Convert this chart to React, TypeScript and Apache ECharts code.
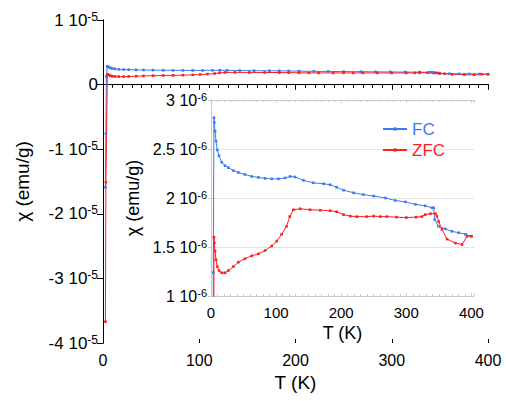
import React, { useEffect, useRef } from "react";
import * as echarts from "echarts";

// Temperature (K) and susceptibility (in units of 1e-6 emu/g)
const tFC = [2.5, 3, 3.5, 4.5, 5.1, 6.2, 7.7, 9.7, 12.3, 16.4, 21.5, 26.7, 34.4, 42, 52, 62.6, 72.8, 83, 93.3, 103.6, 113.8, 121.5, 129, 142, 157, 173, 183, 193, 203.6, 219, 234, 250, 268, 283, 298.5, 314, 329, 339.5, 342, 343.6, 349.7, 360, 370, 380.5, 390.8, 400];
const chiFC = [-15.9, -7.6, 1.24, 2.82, 2.77, 2.68, 2.58, 2.49, 2.43, 2.365, 2.33, 2.31, 2.28, 2.26, 2.24, 2.22, 2.21, 2.2, 2.195, 2.195, 2.205, 2.22, 2.215, 2.18, 2.155, 2.145, 2.135, 2.11, 2.08, 2.053, 2.035, 2.02, 2.0, 1.975, 1.96, 1.935, 1.92, 1.9, 1.9, 1.78, 1.71, 1.685, 1.66, 1.645, 1.63, 1.61];

const tZFC = [2.5, 3, 4.5, 5.1, 6.2, 7.7, 9.7, 12.3, 16.4, 21.5, 26.7, 34.4, 42, 52, 62.6, 72.8, 83, 93.3, 101, 108.5, 116, 121, 126.7, 137, 152, 168, 183, 193, 203.6, 214, 224, 239, 250, 260, 270, 285, 300, 315, 324, 329, 337, 344.6, 347, 349.7, 354.8, 362.6, 375.4, 385.6, 393.3, 400];
const chiZFC = [-36.7, -15.1, 1.6, 1.54, 1.457, 1.37, 1.3, 1.26, 1.237, 1.237, 1.26, 1.3, 1.345, 1.38, 1.41, 1.43, 1.464, 1.51, 1.56, 1.63, 1.71, 1.81, 1.88, 1.89, 1.88, 1.875, 1.87, 1.86, 1.83, 1.815, 1.81, 1.81, 1.815, 1.81, 1.81, 1.805, 1.8, 1.805, 1.81, 1.83, 1.84, 1.84, 1.815, 1.76, 1.68, 1.58, 1.54, 1.525, 1.61, 1.61];

const xTicksMain = [0, 100, 200, 300, 400];

const BLUE = "#3b7cf3";
const RED = "#ff1f1f";
const FONT = "'Liberation Sans', Arial, sans-serif";

const pairs = (xs: number[], ys: number[]) => xs.map((x, i) => [x, ys[i]]);

export default function App() {
  const ref = useRef<HTMLDivElement>(null);
  useEffect(() => {
    if (!ref.current) return;
    const chart = echarts.init(ref.current, undefined, { renderer: "svg" });
    const richMain = {
      n: { fontSize: 17, lineHeight: 19, color: "#000", fontFamily: FONT },
      s: { fontSize: 12, lineHeight: 12, verticalAlign: "top", color: "#000", fontFamily: FONT },
    };
    const richInset = {
      n: { fontSize: 16, lineHeight: 18, color: "#000", fontFamily: FONT },
      s: { fontSize: 11, lineHeight: 11, verticalAlign: "top", color: "#000", fontFamily: FONT },
    };
    const gray = "#c9c9c9";
    const lineSeries = (name: string, xs: number[], ys: number[], color: string, xi: number, yi: number) => ({
      type: "line",
      name,
      xAxisIndex: xi,
      yAxisIndex: yi,
      data: pairs(xs, ys),
      symbol: "rect",
      symbolSize: 2.6,
      showAllSymbol: true,
      color,
      lineStyle: { width: 1, color },
      itemStyle: { color },
      clip: true,
    });
    chart.setOption({
      animation: false,
      backgroundColor: "#fff",
      textStyle: { fontFamily: FONT },
      legend: {
        orient: "vertical",
        left: 382,
        top: 120,
        padding: 0,
        itemWidth: 24,
        itemHeight: 4,
        itemGap: 3,
        data: [
          { name: "FC", textStyle: { color: BLUE } },
          { name: "ZFC", textStyle: { color: RED } },
        ],
        textStyle: { fontSize: 17, lineHeight: 18, fontFamily: FONT },
      },
      grid: [
        { left: 103, top: 20, width: 385, height: 323 },
        { left: 211, top: 100, width: 263, height: 196 },
      ],
      xAxis: [
        {
          gridIndex: 0, type: "value", min: 0, max: 400, interval: 100, position: "bottom",
          axisLine: { show: true, lineStyle: { color: "#000", width: 1 } },
          axisTick: { show: true, inside: false, length: 5, lineStyle: { color: "#000" } },
          minorTick: { show: true, splitNumber: 10, length: 3, lineStyle: { color: "#000" } },
          splitLine: { show: false },
          axisLabel: { fontSize: 16, color: "#000", margin: 9, fontFamily: FONT,
            formatter: (v: number) => (xTicksMain.includes(v) ? String(v) : "") },
          name: "T (K)", nameLocation: "middle", nameGap: 27,
          nameTextStyle: { fontSize: 19, color: "#000", fontFamily: FONT },
        },
        {
          gridIndex: 0, type: "value", min: 0, max: 400, interval: 100, position: "top",
          axisLine: { show: true, lineStyle: { color: "#000", width: 1 } },
          axisTick: { show: true, inside: true, length: 5, lineStyle: { color: "#000" } },
          minorTick: { show: true, splitNumber: 10, length: 3, lineStyle: { color: "#000" } },
          splitLine: { show: false }, axisLabel: { show: false },
        },
        {
          gridIndex: 0, type: "value", min: 0, max: 400, interval: 100, position: "bottom",
          axisLine: { show: false },
          axisTick: { show: true, inside: true, length: 4, lineStyle: { color: "#000" } },
          splitLine: { show: false }, axisLabel: { show: false },
        },
        {
          gridIndex: 1, type: "value", min: 0, max: 404, interval: 100, position: "bottom",
          axisLine: { show: true, lineStyle: { color: gray, width: 1 } },
          axisTick: { show: true, inside: true, length: 3, lineStyle: { color: gray } },
          minorTick: { show: true, splitNumber: 10, length: 2, lineStyle: { color: gray } },
          splitLine: { show: false },
          axisLabel: { fontSize: 15, color: "#000", margin: 9, fontFamily: FONT,
            formatter: (v: number) => (xTicksMain.includes(v) ? String(v) : "") },
          name: "T (K)", nameLocation: "middle", nameGap: 28,
          nameTextStyle: { fontSize: 18, color: "#000", fontFamily: FONT },
        },
        {
          gridIndex: 1, type: "value", min: 0, max: 404, interval: 100, position: "top",
          axisLine: { show: true, lineStyle: { color: gray, width: 1 } },
          axisTick: { show: true, inside: true, length: 3, lineStyle: { color: gray } },
          minorTick: { show: true, splitNumber: 10, length: 2, lineStyle: { color: gray } },
          splitLine: { show: false }, axisLabel: { show: false },
        },
      ],
      yAxis: [
        {
          gridIndex: 0, type: "value", min: -40, max: 10, interval: 10, position: "left",
          axisLine: { show: true, lineStyle: { color: "#000", width: 1 } },
          axisTick: { show: true, inside: false, length: 5, lineStyle: { color: "#000" } },
          splitLine: { show: false },
          axisLabel: {
            margin: 5, rich: richMain,
            formatter: (v: number) => {
              const m = Math.round(v / 10);
              return m === 0 ? "{n|0}" : `{n|${m} 10}{s|-5}`;
            },
          },
          name: "χ (emu/g)", nameLocation: "middle", nameGap: 71,
          nameTextStyle: { fontSize: 19, color: "#000", fontFamily: FONT },
        },
        {
          gridIndex: 0, type: "value", min: -40, max: 10, interval: 10, position: "right",
          axisLine: { show: true, lineStyle: { color: "#000", width: 1 } },
          axisTick: { show: true, inside: true, length: 6, lineStyle: { color: "#000" } },
          splitLine: { show: false }, axisLabel: { show: false },
        },
        {
          gridIndex: 1, type: "value", min: 1, max: 3, interval: 0.5, position: "left",
          axisLine: { show: true, lineStyle: { color: gray, width: 1 } },
          axisTick: { show: true, inside: false, length: 3, lineStyle: { color: gray } },
          splitLine: { show: true, lineStyle: { color: "#e3e3e3", width: 1 } },
          axisLabel: {
            margin: 4, rich: richInset,
            formatter: (v: number) => `{n|${Math.round(v * 10) / 10} 10}{s|-6}`,
          },
          name: "χ (emu/g)", nameLocation: "middle", nameGap: 62,
          nameTextStyle: { fontSize: 18, color: "#000", fontFamily: FONT },
        },
        {
          gridIndex: 1, type: "value", min: 1, max: 3, interval: 0.5, position: "right",
          axisLine: { show: true, lineStyle: { color: gray, width: 1 } },
          axisTick: { show: false },
          splitLine: { show: false }, axisLabel: { show: false },
        },
      ],
      series: [
        lineSeries("FC", tFC, chiFC, BLUE, 0, 0),
        lineSeries("ZFC", tZFC, chiZFC, RED, 0, 0),
        lineSeries("FC", tFC, chiFC, BLUE, 3, 2),
        lineSeries("ZFC", tZFC, chiZFC, RED, 3, 2),
      ],
    });
    return () => chart.dispose();
  }, []);
  return <div ref={ref} style={{ position: "absolute", left: 0, top: 0, width: 506, height: 401 }} />;
}
